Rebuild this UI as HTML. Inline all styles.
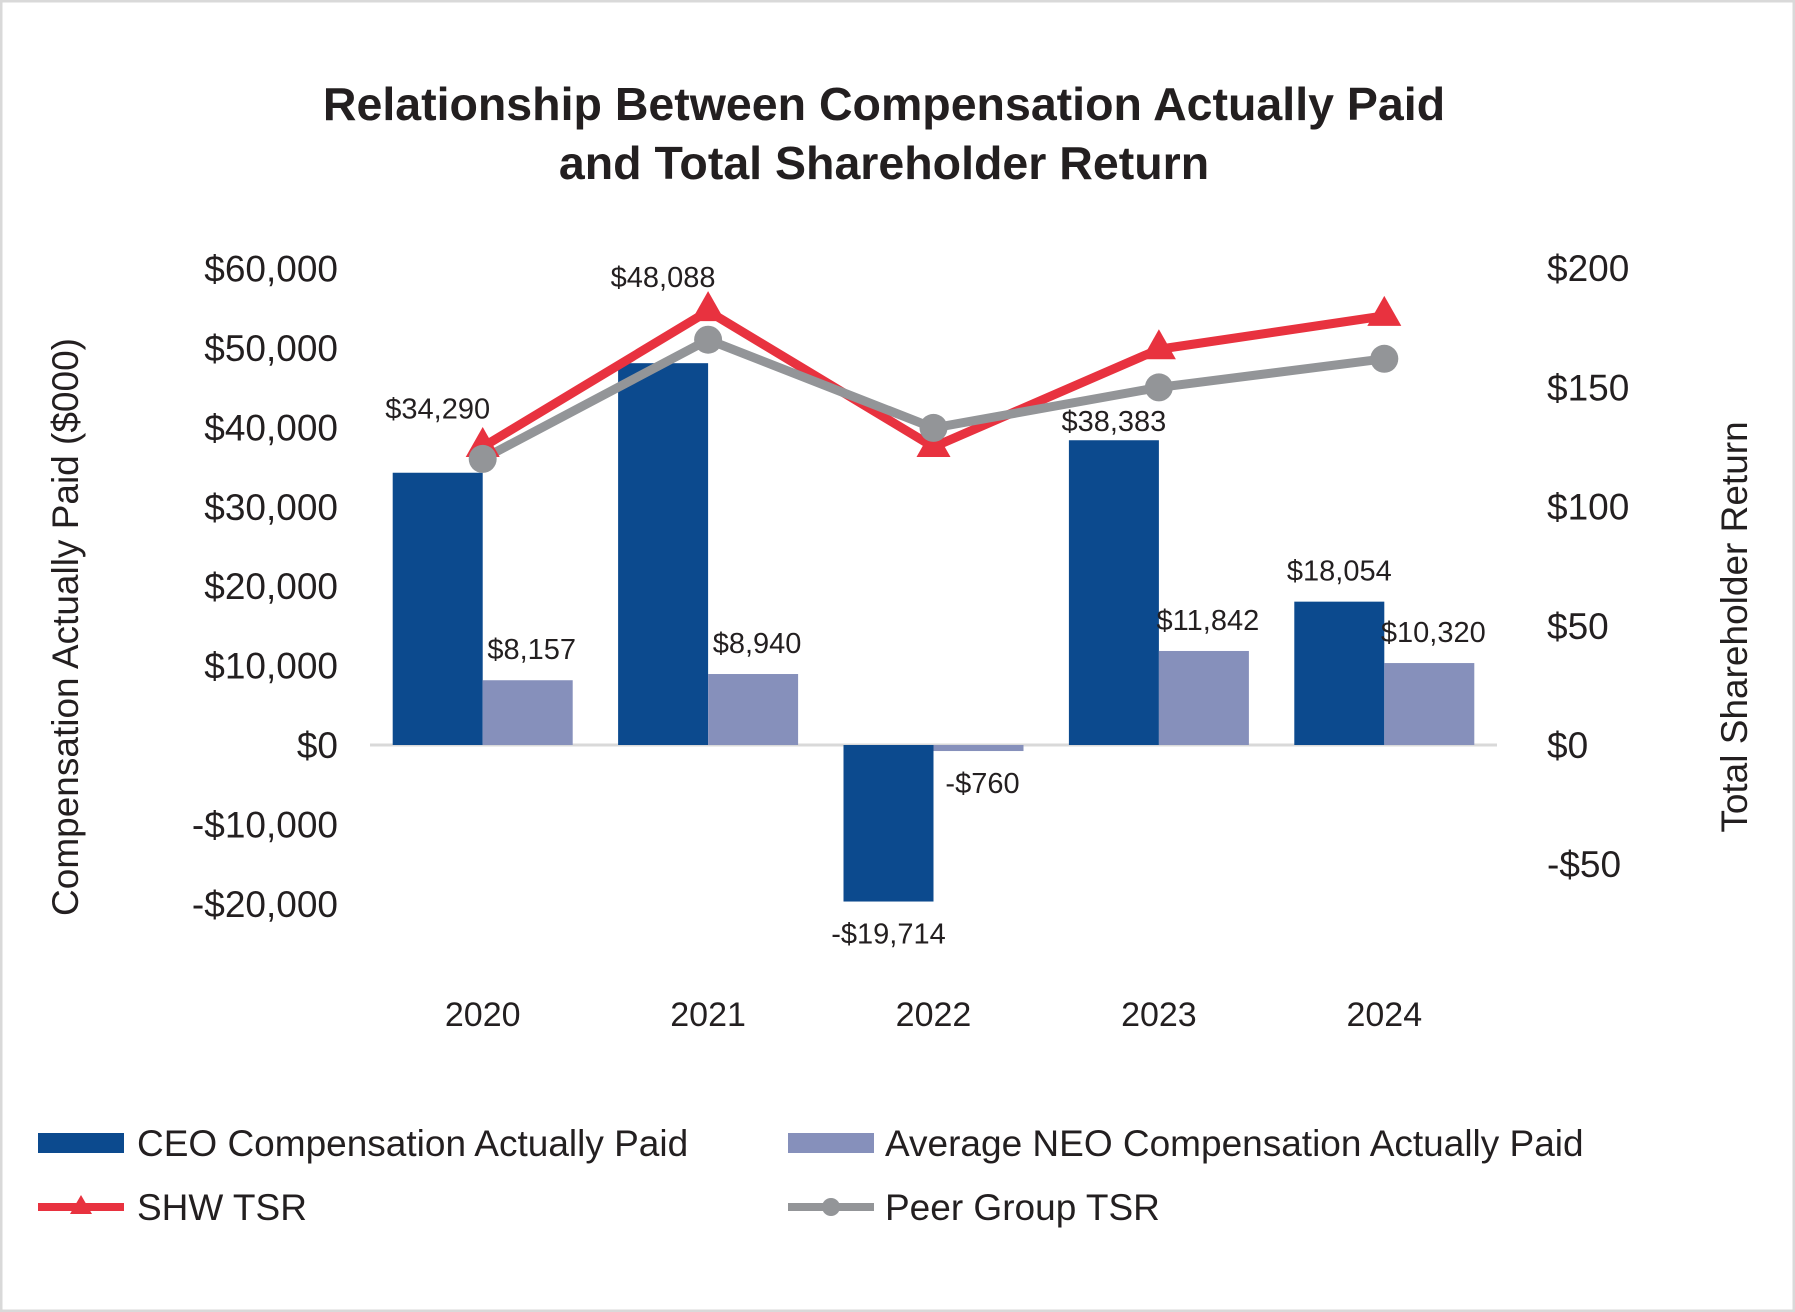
<!DOCTYPE html>
<html><head><meta charset="utf-8"><style>
html,body{margin:0;padding:0;background:#fff}
svg{display:block;font-family:"Liberation Sans",Arial,sans-serif}
</style></head><body>
<svg id="chart" width="1795" height="1312" viewBox="0 0 1795 1312">
<rect x="1" y="1" width="1793" height="1310" fill="#fff" stroke="#d9d9d9" stroke-width="3"/>
<text x="884" y="120" text-anchor="middle" font-size="46.5" font-weight="bold" fill="#231f20">Relationship Between Compensation Actually Paid</text>
<text x="884" y="179" text-anchor="middle" font-size="46.5" font-weight="bold" fill="#231f20">and Total Shareholder Return</text>
<text transform="translate(78,627) rotate(-90)" text-anchor="middle" font-size="37" fill="#231f20">Compensation Actually Paid ($000)</text>
<text transform="translate(1747,627) rotate(-90)" text-anchor="middle" font-size="37" fill="#231f20">Total Shareholder Return</text>
<g id="plot"></g>
<g id="legend">
<rect x="38" y="1133" width="86" height="20" fill="#0c4a8e"/>
<text x="137" y="1156" font-size="37" fill="#231f20">CEO Compensation Actually Paid</text>
<rect x="788" y="1133" width="86" height="20" fill="#8690bb"/>
<text x="885" y="1156" font-size="37" fill="#231f20">Average NEO Compensation Actually Paid</text>
<line x1="38" y1="1207" x2="124" y2="1207" stroke="#e8323f" stroke-width="8"/>
<polygon points="81,1195 92,1214 70,1214" fill="#e8323f"/>
<text x="137" y="1220" font-size="37" fill="#231f20">SHW TSR</text>
<line x1="788" y1="1207" x2="874" y2="1207" stroke="#939598" stroke-width="8"/>
<circle cx="831" cy="1207" r="9" fill="#939598"/>
<text x="885" y="1220" font-size="37" fill="#231f20">Peer Group TSR</text>
</g>
</svg>
<script>
const years = ["2020","2021","2022","2023","2024"];
const ceoPay = [34290, 48088, -19714, 38383, 18054];
const neoPay = [8157, 8940, -760, 11842, 10320];
const shwTsr = [125, 182, 125, 166, 180];
const peerTsr = [120, 170, 133, 150, 162];
const leftTicks = [60000, 50000, 40000, 30000, 20000, 10000, 0, -10000, -20000];
const rightTicks = [200, 150, 100, 50, 0, -50];
// label placement gaps (layout, px)
const ceoLabelGap = [54, 76, 42, 9, 21];

const NS = "http://www.w3.org/2000/svg";
const plot = document.getElementById("plot");
const x0 = 370, x1 = 1497, zeroY = 745;
const band = (x1 - x0) / years.length;
const yL = v => zeroY - v * (79.4 / 10000);
const yR = v => zeroY - v * (119.2 / 50);
const cx = i => x0 + band * (i + 0.5);
const bw = 90;
function mk(tag, attrs, txt){const e=document.createElementNS(NS,tag);for(const k in attrs)e.setAttribute(k,attrs[k]);if(txt!==undefined)e.textContent=txt;plot.appendChild(e);return e;}
const fmt = v => (v<0?"-$":"$") + Math.abs(v).toLocaleString("en-US");

leftTicks.forEach(t=>{
  const e=mk("text",{x:338,y:yL(t)+13,"text-anchor":"end","font-size":37,fill:"#231f20"},fmt(t));
  
  
});
rightTicks.forEach(t=>{
  const e=mk("text",{x:1547,y:yR(t)+13,"font-size":37,fill:"#231f20"},fmt(t));
  
  
});
const zl=mk("line",{x1:x0,y1:zeroY,x2:x1,y2:zeroY,stroke:"#d9d9d9","stroke-width":3});


years.forEach((yr,i)=>{
  const c=cx(i);
  const b1=mk("rect",{x:c-bw,y:Math.min(yL(ceoPay[i]),zeroY),width:bw,height:Math.abs(yL(ceoPay[i])-zeroY),fill:"#0c4a8e"});
  
  
  const b2=mk("rect",{x:c,y:Math.min(yL(neoPay[i]),zeroY),width:bw,height:Math.abs(yL(neoPay[i])-zeroY),fill:"#8690bb"});
  
  
  const l1=mk("text",{x:c-bw/2,y:ceoPay[i]>=0?yL(ceoPay[i])-ceoLabelGap[i]:yL(ceoPay[i])+ceoLabelGap[i],"text-anchor":"middle","font-size":29,fill:"#231f20"},fmt(ceoPay[i]));
  
  
  const l2=mk("text",{x:c+bw/2+4,y:neoPay[i]>=0?yL(neoPay[i])-21:yL(neoPay[i])+42,"text-anchor":"middle","font-size":29,fill:"#231f20"},fmt(neoPay[i]));
  
  
  const yt=mk("text",{x:c,y:1026,"text-anchor":"middle","font-size":34,fill:"#231f20"},yr);
  
  
});

const shwLine=mk("polyline",{points:shwTsr.map((v,i)=>cx(i)+","+yR(v)).join(" "),fill:"none",stroke:"#e8323f","stroke-width":9,"stroke-linejoin":"round"});


const peerLine=mk("polyline",{points:peerTsr.map((v,i)=>cx(i)+","+yR(v)).join(" "),fill:"none",stroke:"#939598","stroke-width":9,"stroke-linejoin":"round"});


shwTsr.forEach((v,i)=>{
  const x=cx(i),y=yR(v);
  const p=mk("polygon",{points:`${x},${y-20} ${x+17},${y+10} ${x-17},${y+10}`,fill:"#e8323f"});
  
  
});
peerTsr.forEach((v,i)=>{
  const p=mk("circle",{cx:cx(i),cy:yR(v),r:14,fill:"#939598"});
  
  
});
</script>
</body></html>
